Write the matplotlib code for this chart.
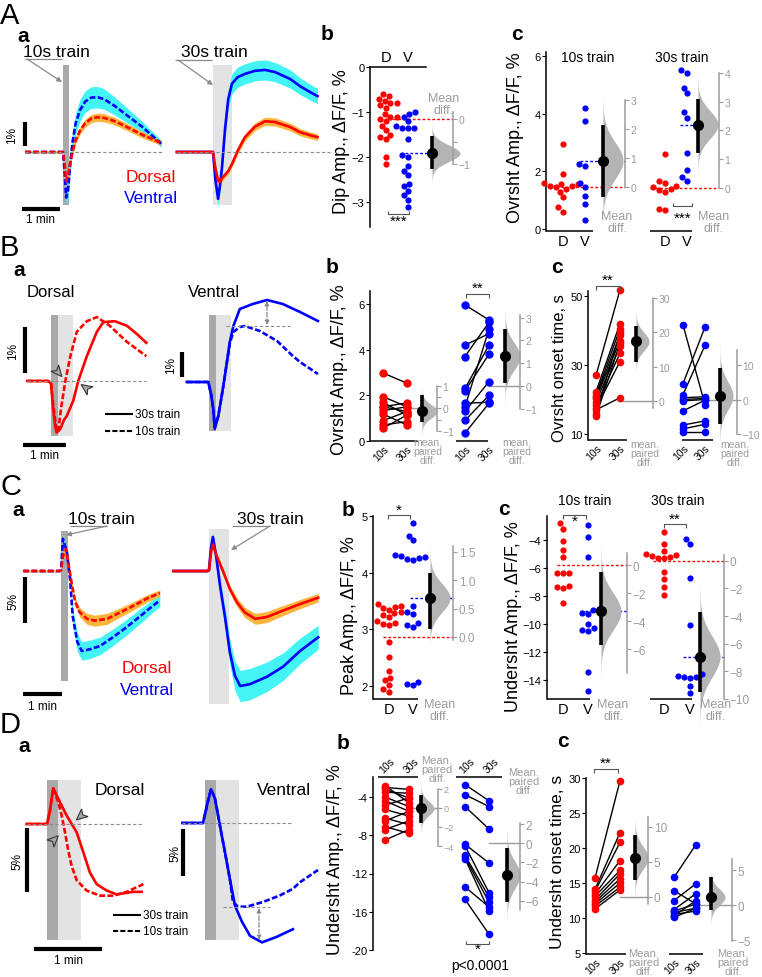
import numpy as np
import matplotlib
matplotlib.use('Agg')
import matplotlib.pyplot as plt

plt.rcParams['font.family'] = ['Liberation Sans', 'DejaVu Sans']

RED = '#ff0000'
BLUE = '#0000ff'
CYAN = '#44f4f4'
ORANGE = '#ffb43c'
DARKBAR = '#a9a9a9'
LIGHTBAR = '#e3e3e3'
GRAY = '#9c9c9c'
BASE = '#8c8c8c'

# ---------------- traces (time s, dF/F %) ----------------
# A: 10s and 30s train, mean +- sem
aa10_t = [-60, -30, -5, 0, 3, 5, 8, 11, 15, 20, 27, 35, 45, 55, 65, 80, 95, 110, 125, 140, 155]
aa10_dors = [0, 0, 0, 0, -0.6, -1.2, -1.0, -0.5, 0.0, 0.5, 0.9, 1.2, 1.4, 1.45, 1.42, 1.3, 1.12, 0.92, 0.72, 0.55, 0.38]
aa10_dors_sem = [0.04, 0.04, 0.04, 0.04, 0.1, 0.15, 0.15, 0.15, 0.15, 0.15, 0.15, 0.17, 0.17, 0.17, 0.17, 0.16, 0.15, 0.14, 0.13, 0.12, 0.1]
aa10_vent = [0, 0, 0, 0, -1.0, -1.9, -1.6, -0.6, 0.4, 1.2, 1.75, 2.1, 2.27, 2.28, 2.2, 1.95, 1.65, 1.35, 1.05, 0.7, 0.35]
aa10_vent_sem = [0.04, 0.04, 0.04, 0.04, 0.2, 0.3, 0.3, 0.35, 0.4, 0.45, 0.45, 0.45, 0.45, 0.45, 0.42, 0.38, 0.33, 0.28, 0.22, 0.18, 0.15]

aa30_t = [-57, -30, -5, 0, 4, 8, 11, 14, 19, 24, 30, 39, 50, 66, 82, 98, 122, 137, 153, 165]
aa30_dors = [0, 0, 0, 0, -0.7, -1.2, -1.25, -1.1, -0.95, -0.8, -0.5, 0.05, 0.6, 1.05, 1.28, 1.25, 1.04, 0.83, 0.7, 0.62]
aa30_dors_sem = [0.04, 0.04, 0.04, 0.04, 0.1, 0.12, 0.12, 0.12, 0.12, 0.12, 0.13, 0.14, 0.15, 0.16, 0.17, 0.17, 0.16, 0.15, 0.14, 0.14]
aa30_vent = [0, 0, 0, 0, -1.2, -1.95, -1.4, -0.7, 0.95, 2.2, 2.85, 3.12, 3.25, 3.38, 3.42, 3.33, 3.04, 2.75, 2.5, 2.33]
aa30_vent_sem = [0.04, 0.04, 0.04, 0.04, 0.2, 0.3, 0.3, 0.3, 0.35, 0.4, 0.42, 0.42, 0.42, 0.42, 0.42, 0.4, 0.38, 0.35, 0.33, 0.32]

# B: single examples
ba_d30_t = [-33, -4, 0, 3, 6, 8, 13, 18, 22, 31, 38, 50, 64, 73, 89, 106, 120, 133]
ba_d30 = [0, 0, -0.05, -0.6, -1.0, -1.12, -1.04, -0.85, -0.76, -0.43, 0.0, 0.54, 1.07, 1.28, 1.3, 1.2, 1.02, 0.83]
ba_d10_t = [-33, -4, 0, 3, 7, 10, 14, 20, 27, 36, 50, 64, 82, 106, 133]
ba_d10 = [0, 0, -0.05, -0.5, -1.0, -1.1, -0.6, 0.0, 0.54, 1.07, 1.3, 1.39, 1.2, 0.85, 0.54]
ba_v30_t = [-31, -1, 3, 6, 8, 13, 20, 25, 29, 34, 43, 61, 81, 103, 127, 152]
ba_v30 = [0, 0, -0.5, -1.08, -1.88, -1.36, -0.16, 0.8, 1.6, 2.24, 2.92, 3.12, 3.28, 3.12, 2.8, 2.44]
ba_v10_t = [-31, -1, 3, 6, 8, 13, 20, 25, 29, 34, 43, 50, 71, 95, 117, 127, 152]
ba_v10 = [0, 0, -0.5, -1.08, -1.8, -1.36, -0.16, 0.8, 1.55, 2.0, 2.2, 2.24, 2.04, 1.64, 1.04, 0.8, 0.32]

# C
ca10_dors_t = [-58, -2, 0, 3, 8, 11, 17, 22, 29, 40, 52, 71, 91, 111, 132, 152]
ca10_dors = [0, 0, 0.1, 1.6, 2.4, 1.0, -1.6, -3.4, -4.5, -5.2, -5.4, -5.2, -4.5, -3.8, -3.0, -2.4]
ca10_dors_sem = [0.1, 0.1, 0.1, 0.3, 0.3, 0.3, 0.35, 0.4, 0.5, 0.6, 0.6, 0.6, 0.5, 0.45, 0.4, 0.35]
ca10_vent_t = [-58, -2, 0, 3, 9, 14, 18, 25, 32, 45, 60, 80, 101, 122, 141, 152]
ca10_vent = [0, 0, 0.1, 3.5, 2.1, -0.9, -4.9, -7.7, -8.7, -8.5, -8.15, -7.2, -6.1, -4.9, -3.8, -3.2]
ca10_vent_sem = [0.1, 0.1, 0.1, 0.4, 0.5, 0.6, 0.8, 1.0, 1.0, 1.0, 0.95, 0.9, 0.85, 0.8, 0.7, 0.65]
ca30_dors_t = [-55, -2, 0, 3, 6, 12, 22, 32, 43, 55, 71, 89, 114, 140, 168]
ca30_dors = [0, 0, 0.1, 2.0, 2.9, 1.6, -0.1, -1.95, -3.4, -4.5, -5.2, -5.0, -4.3, -3.6, -2.9]
ca30_dors_sem = [0.1, 0.1, 0.1, 0.3, 0.3, 0.3, 0.35, 0.4, 0.5, 0.55, 0.6, 0.6, 0.55, 0.5, 0.45]
ca30_vent_t = [-55, -2, 0, 3, 6, 11, 17, 25, 32, 40, 48, 63, 89, 114, 140, 168]
ca30_vent = [0, 0, 0.1, 2.5, 3.7, 1.6, -1.6, -5.2, -8.8, -11.4, -12.5, -12.3, -11.5, -10.4, -8.7, -7.2]
ca30_vent_sem = [0.1, 0.1, 0.1, 0.4, 0.5, 0.6, 0.8, 1.1, 1.4, 1.6, 1.7, 1.7, 1.6, 1.5, 1.4, 1.3]

# D
da_d30_t = [-18, 0, 2.5, 5.5, 10, 17.4, 26.2, 32, 37.9, 43.8, 52.7, 61.5, 76.1, 83.5]
da_d30 = [0, 0, 1.0, 2.8, 1.95, 0.65, -0.65, -2.2, -3.8, -4.7, -5.2, -5.5, -5.3, -5.3]
da_d10_t = [-18, 0, 2.5, 5.5, 10, 13, 15.9, 18.8, 21.8, 26.2, 35, 46.7, 58.5, 70.3, 85]
da_d10 = [0, 0, 1.0, 2.8, 1.7, 0.65, -0.65, -2.1, -3.3, -4.4, -5.2, -5.6, -5.6, -5.3, -4.7]
da_v30_t = [-20, -1.8, 2.6, 5.3, 8.8, 13.2, 17.6, 22, 26.5, 32.6, 39.7, 50.3, 63.5, 77.6]
da_v30 = [0, 0, 2.3, 3.6, 2.6, -0.3, -3.1, -6.0, -8.8, -10.5, -12.0, -12.7, -12.1, -11.3]
da_v10_t = [-20, -1.8, 2.6, 5.3, 8.8, 13.2, 17.6, 22, 24.7, 29.1, 37, 51.2, 66.2, 77.6, 83.8, 99.7]
da_v10 = [0, 0, 2.3, 3.6, 2.6, -0.3, -3.1, -6.0, -8.4, -8.9, -8.9, -8.4, -7.7, -7.0, -6.3, -5.0]

# ---------------- group data ----------------
ab_dors = [-0.6, -0.65, -0.7, -0.75, -0.8, -0.8, -0.85, -0.9, -1.05, -1.1, -1.1, -1.15, -1.2, -1.3, -1.4, -1.5, -1.55, -1.6, -2.0, -2.15]
ab_vent = [-1.0, -1.05, -1.1, -1.2, -1.3, -1.35, -1.35, -1.35, -1.6, -1.95, -2.0, -2.2, -2.3, -2.4, -2.6, -2.65, -2.75, -2.85, -2.95, -3.1]
ab_eff, ab_ci = -0.76, [-1.1, -0.38]

ac10_dors = [2.95, 1.9, 1.6, 1.55, 1.55, 1.5, 1.5, 1.45, 1.4, 1.3, 1.1, 0.75, 0.6]
ac10_vent = [4.2, 3.75, 2.25, 2.2, 1.6, 1.45, 1.15, 0.85, 0.3]
ac10_eff, ac10_ci = 0.9, [-0.35, 2.15]
ac30_dors = [2.6, 1.65, 1.6, 1.5, 1.45, 1.4, 1.35, 1.3, 0.7, 0.65]
ac30_vent = [5.5, 5.4, 4.9, 4.7, 4.05, 3.85, 2.65, 2.05, 1.8, 1.65]
ac30_eff, ac30_ci = 2.2, [1.22, 3.1]

bb_d10 = [2.98, 1.94, 1.69, 1.5, 1.5, 1.33, 1.18, 0.89, 0.7, 0.56]
bb_d30 = [2.53, 1.5, 1.14, 1.67, 1.29, 1.5, 0.7, 1.29, 0.85, 1.14]
bb_d_eff, bb_d_ci = -0.13, [-0.61, 0.57]
bb_v10 = [5.96, 4.2, 3.7, 2.3, 2.2, 1.65, 1.5, 1.3, 0.9, 0.35]
bb_v30 = [5.3, 4.7, 5.2, 4.2, 3.8, 1.7, 4.9, 2.6, 2.0, 1.65]
bb_v_eff, bb_v_ci = 1.3, [0.13, 2.5]

bc_d10 = [27, 22.3, 21.3, 20.8, 20.3, 19.3, 18.3, 17.5, 17, 15.8, 15.2]
bc_d30 = [51.8, 42, 40.5, 38.6, 37, 35.5, 33.4, 31, 20.5, 39.5, 36.3]
bc_d_eff, bc_d_ci = 17.3, [11.4, 21.9]
bc_v10 = [41.6, 24.6, 21.4, 20.5, 19.6, 16.7, 12.6, 11.5, 10.6, 20]
bc_v30 = [18.5, 41, 35.7, 20.8, 20, 19.8, 13.8, 12.8, 10.6, 20.3]
bc_v_eff, bc_v_ci = 1.2, [-7.0, 9.1]

cb_dors = [3.45, 3.42, 3.4, 3.38, 3.35, 3.3, 3.28, 3.25, 3.22, 3.15, 3.12, 3.1, 3.08, 2.77, 2.52, 2.27, 2.15, 2.1, 2.02, 1.95, 1.9]
cb_vent = [4.87, 4.65, 4.57, 4.32, 4.3, 4.28, 4.26, 4.24, 4.22, 3.42, 3.3, 3.27, 3.12, 3.08, 3.05, 2.07, 2.03, 2.01]
cb_eff, cb_ci = 0.69, [0.14, 1.12]

cc10_dors = [-2.8, -3.2, -4.1, -4.7, -5.2, -6.35, -6.35, -6.35, -7.3, -7.35, -7.4, -8.5]
cc10_vent = [-2.9, -3.75, -5.2, -8.9, -9.0, -9.2, -9.3, -10.0, -10.3, -10.4, -10.5, -13.4, -14.8]
cc10_eff, cc10_ci = -3.3, [-5.7, -0.5]
cc30_dors = [-3.4, -4.3, -4.8, -5.0, -5.1, -5.15, -5.2, -5.25, -5.3, -6.3, -6.8, -7.35, -7.9]
cc30_vent = [-3.95, -4.3, -6.7, -10.1, -13.6, -13.7, -13.75, -13.8, -13.85, -14.4, -14.9]
cc30_eff, cc30_ci = -6.8, [-9.3, -3.6]

db_d10 = [-2.8, -3.0, -3.2, -3.5, -4.0, -4.4, -4.85, -5.3, -6.2, -6.5, -7.1, -7.4, -8.5]
db_d30 = [-4.6, -3.2, -4.1, -3.6, -5.0, -5.5, -4.1, -6.0, -6.9, -5.5, -7.8, -6.5, -7.4]
db_d_eff, db_d_ci = -0.05, [-1.58, 1.37]
db_v10 = [-2.7, -3.75, -5.0, -8.95, -9.1, -10.1, -10.3, -10.45, -13.4, -14.7]
db_v30 = [-4.4, -5.0, -7.35, -10.9, -14.0, -14.45, -15.0, -15.9, -15.5, -18.35]
db_v_eff, db_v_ci = -3.3, [-6.1, -0.53]

dc_d10 = [15.7, 14.1, 13.8, 13.4, 13.1, 12.6, 12.3, 12.0, 11.7, 11.3]
dc_d30 = [29.6, 22.2, 20.8, 18.2, 16.8, 16.3, 15.6, 15.0, 14.4, 14.0]
dc_d_eff, dc_d_ci = 5.6, [2.4, 8.9]
dc_v10 = [15.8, 13.9, 12.5, 11.2, 10.8, 10.5, 10.1, 10.3, 11.0]
dc_v30 = [20.5, 12.0, 14.9, 13.5, 11.4, 11.0, 11.4, 12.5, 12.0]
dc_v_eff, dc_v_ci = 1.2, [-0.6, 4.0]

# ---------------- figure ----------------
W, H = 762, 978
fig = plt.figure(figsize=(W / 100, H / 100), dpi=100)


def px_axes(x0, x1, y0, y1):
    ax = fig.add_axes([x0 / W, 1 - y1 / H, (x1 - x0) / W, (y1 - y0) / H])
    ax.patch.set_visible(False)
    for s in ax.spines.values():
        s.set_visible(False)
    ax.set_xticks([])
    ax.set_yticks([])
    return ax


def trace_axes(x0, x1, y0, y1, xz, spp, yz, ppu):
    ax = px_axes(x0, x1, y0, y1)
    ax.set_xlim((x0 - xz) * spp, (x1 - xz) * spp)
    ax.set_ylim((yz - y1) / ppu, (yz - y0) / ppu)
    ax.yz, ax.ppu = yz, ppu
    return ax


def stim(ax, t0, t1, ptop, pbot, color):
    ax.fill_between([t0, t1], (ax.yz - pbot) / ax.ppu, (ax.yz - ptop) / ax.ppu,
                    color=color, lw=0, zorder=0)


def trace(ax, t, v, color, dashed=False, sem=None, band=None, z=2):
    if sem is not None:
        v_ = np.array(v)
        s_ = np.array(sem)
        ax.fill_between(t, v_ - s_, v_ + s_, color=band, lw=0, zorder=1)
    ax.plot(t, v, color=color, lw=1.9, ls=(0, (2.2, 0.9)) if dashed else '-',
            zorder=z, clip_on=False)


def est_axes(x0, x1, y0, y1, cal):
    (va, pa), (vb, pb) = cal
    ppu = (pa - pb) / (vb - va)
    ax = px_axes(x0, x1, y0, y1)
    ax.set_xlim(x0, x1)
    ax.set_ylim(va - (y1 - pa) / ppu, va + (pa - y0) / ppu)
    ax.spines['left'].set_visible(True)
    ax.spines['left'].set_linewidth(1.1)
    ax.tick_params(axis='y', labelsize=8, length=3, width=0.8, pad=1)
    ax.ppu = ppu
    return ax


def segments(ax, segs, top=False):
    y = ax.get_ylim()[1] if top else ax.get_ylim()[0]
    for a, b in segs:
        ax.plot([a, b], [y, y], color='k', lw=1.1, clip_on=False, solid_capstyle='butt')


def cats(ax, xs, labels, rot=False, top=False, size=10.5):
    if top:
        ax.xaxis.tick_top()
    ax.set_xticks(xs)
    if rot:
        ax.set_xticklabels(labels, rotation=45, ha='left' if top else 'right',
                           rotation_mode='anchor', fontsize=7.5)
    else:
        ax.set_xticklabels(labels, fontsize=size)
    ax.tick_params(axis='x', length=0, pad=2)


def swarm(vals, xc, ppu, d=6.3):
    vals = np.asarray(vals, dtype=float)
    xs = np.zeros(len(vals))
    placed = []
    for i in np.argsort(vals):
        y = vals[i] * ppu
        cands = [0.0]
        near = []
        for px, py in placed:
            dy = abs(py - y)
            if dy < d:
                w = np.sqrt(d * d - dy * dy)
                near.append((px - w, px + w))
                cands += [px - w, px + w]
        cands.sort(key=abs)
        for c in cands:
            if all(not (lo + 1e-6 < c < hi - 1e-6) for lo, hi in near):
                xs[i] = c
                placed.append((c, y))
                break
    return xc + xs


def violin(ax, x, ref, eff, ci, width):
    sd = (ci[1] - ci[0]) / 3.92
    ys = np.linspace(eff - 4.5 * sd, eff + 4.5 * sd, 150)
    w = width * np.exp(-0.5 * ((ys - eff) / sd) ** 2)
    ax.fill_betweenx(ys + ref, x, x + w, color='#b4b4b4', lw=0, clip_on=False, zorder=2)
    ax.plot([x, x], [ci[0] + ref, ci[1] + ref], color='k', lw=2.6, clip_on=False,
            zorder=3, solid_capstyle='butt')
    ax.plot(x, eff + ref, 'o', color='k', ms=7, clip_on=False, zorder=4)


def diff_axis(ax, x, ref, lo, hi, ticks, labels=None, size=7.5):
    d = fig.add_axes(ax.get_position().bounds)
    d.patch.set_visible(False)
    d.set_xlim(ax.get_xlim())
    y0, y1 = ax.get_ylim()
    d.set_ylim(y0 - ref, y1 - ref)
    for s in ['left', 'top', 'bottom']:
        d.spines[s].set_visible(False)
    d.spines['right'].set_position(('data', x))
    d.spines['right'].set_bounds(lo, hi)
    d.spines['right'].set_color(GRAY)
    d.spines['right'].set_linewidth(1.1)
    d.yaxis.tick_right()
    d.set_yticks(ticks)
    if labels is not None:
        d.set_yticklabels(labels)
    d.set_xticks([])
    d.tick_params(axis='y', colors=GRAY, labelsize=size, length=3, width=0.8, pad=1)
    return d


def unpaired(ax, xd, xv, dors, vent, eff, ci, xe, xdiff, vw, sd, sv, ms=20):
    ref = np.mean(dors)
    ax.scatter(swarm(dors, xd, ax.ppu), dors, s=ms, color=RED, lw=0, zorder=3, clip_on=False)
    ax.scatter(swarm(vent, xv, ax.ppu), vent, s=ms, color=BLUE, lw=0, zorder=3, clip_on=False)
    ax.plot([sd, xdiff], [ref, ref], color=RED, lw=1, ls=(0, (2, 1.5)), zorder=2, clip_on=False)
    ax.plot([sv, xdiff], [ref + eff, ref + eff], color=BLUE, lw=1, ls=(0, (2, 1.5)),
            zorder=2, clip_on=False)
    violin(ax, xe, ref, eff, ci, vw)
    return ref


def paired(ax, x1, x2, a, b, color, eff, ci, xe, xdiff, vw, ms=6):
    for ya, yb in zip(a, b):
        ax.plot([x1, x2], [ya, yb], color='k', lw=1, zorder=2, clip_on=False)
    ax.plot(np.full(len(a), x1), a, 'o', color=color, ms=ms, mec='none', zorder=3, clip_on=False)
    ax.plot(np.full(len(b), x2), b, 'o', color=color, ms=ms, mec='none', zorder=3, clip_on=False)
    ref = np.mean(a)
    ax.plot([x2, xdiff], [ref, ref], color=GRAY, lw=1, zorder=1, clip_on=False)
    violin(ax, xe, ref, eff, ci, vw)
    return ref


# ---------- A a ----------
ax = trace_axes(20, 168, 55, 215, 63, 60 / 38, 153, 24)
stim(ax, 0, 10, 66, 206, DARKBAR)
trace(ax, aa10_t, aa10_vent, BLUE, True, aa10_vent_sem, CYAN, 2)
trace(ax, aa10_t, aa10_dors, RED, True, aa10_dors_sem, ORANGE, 3)
ax = trace_axes(172, 330, 55, 215, 213, 60 / 38, 153, 24)
stim(ax, 0, 30, 66, 206, LIGHTBAR)
trace(ax, aa30_t, aa30_vent, BLUE, False, aa30_vent_sem, CYAN, 2)
trace(ax, aa30_t, aa30_dors, RED, False, aa30_dors_sem, ORANGE, 3)

# ---------- A b ----------
ax = est_axes(370, 470, 68, 228, ((0, 68), (-3, 203)))
ax.set_yticks([0, -1, -2, -3])
ax.spines['top'].set_visible(True)
ax.spines['top'].set_bounds(370, 426)
ax.spines['top'].set_linewidth(1.1)
cats(ax, [386, 408], ['D', 'V'], top=True)
ref = unpaired(ax, 386, 408, ab_dors, ab_vent, ab_eff, ab_ci, 432, 453, 28, 388, 405)
diff_axis(ax, 453, ref, -1, 0.15, [0, -0.5, -1], ['0', '', '\u22121'])

# ---------- A c ----------
ax = est_axes(546, 745, 53, 232, ((0, 230), (6, 57)))
ax.set_yticks([0, 2, 4, 6])
segments(ax, [(546, 593), (650, 692)])
cats(ax, [563, 585, 665, 687], ['D', 'V', 'D', 'V'])
ref = unpaired(ax, 563, 585, ac10_dors, ac10_vent, ac10_eff, ac10_ci, 603, 625, 20, 556, 580)
diff_axis(ax, 625, ref, 0, 3, [0, 1, 2, 3])
ref = unpaired(ax, 665, 687, ac30_dors, ac30_vent, ac30_eff, ac30_ci, 698, 719, 20, 650, 680)
diff_axis(ax, 719, ref, 0, 4, [0, 1, 2, 3, 4])

# ---------- B a ----------
ax = trace_axes(20, 160, 300, 445, 51, 60 / 43, 382, 46)
stim(ax, 0, 10, 316, 437, DARKBAR)
stim(ax, 10, 30, 316, 437, LIGHTBAR)
trace(ax, ba_d10_t, ba_d10, RED, True)
trace(ax, ba_d30_t, ba_d30, RED, False)
ax = trace_axes(180, 330, 290, 445, 209, 60 / 43, 383, 25)
stim(ax, 0, 10, 316, 432, DARKBAR)
stim(ax, 10, 30, 316, 432, LIGHTBAR)
trace(ax, ba_v10_t, ba_v10, BLUE, True)
trace(ax, ba_v30_t, ba_v30, BLUE, False)

# ---------- B b ----------
ax = est_axes(370, 530, 292, 442, ((0, 442), (6, 305)))
ax.set_yticks([0, 2, 4, 6])
segments(ax, [(370, 418), (456, 488)])
cats(ax, [383, 407, 465, 489], ['10s', '30s', '10s', '30s'], rot=True)
ref = paired(ax, 383, 407, bb_d10, bb_d30, RED, bb_d_eff, bb_d_ci, 422, 437, 15)
diff_axis(ax, 437, ref, -1, 1, [-1, -0.5, 0, 0.5, 1], ['\u22121', '', '0', '', '1'])
ref = paired(ax, 465, 489, bb_v10, bb_v30, BLUE, bb_v_eff, bb_v_ci, 505, 520, 15)
diff_axis(ax, 520, ref, -1, 3.1, [-1, 0, 1, 2, 3])

# ---------- B c ----------
ax = est_axes(588, 755, 292, 441, ((10, 435), (50, 297)))
ax.set_yticks([10, 30, 50])
segments(ax, [(588, 627), (682, 713)])
cats(ax, [596, 620, 683, 705], ['10s', '30s', '10s', '30s'], rot=True)
ref = paired(ax, 596, 620, bc_d10, bc_d30, RED, bc_d_eff, bc_d_ci, 636, 653, 13, ms=5.5)
diff_axis(ax, 653, ref, -2, 30, [0, 10, 20, 30])
ref = paired(ax, 683, 705, bc_v10, bc_v30, BLUE, bc_v_eff, bc_v_ci, 720, 737, 13, ms=5.5)
diff_axis(ax, 737, ref, -10, 14.5, [-10, 0, 10])

# ---------- C a ----------
ax = trace_axes(18, 170, 520, 710, 61, 60 / 39, 572, 9.2)
stim(ax, 0, 10, 532, 682, DARKBAR)
trace(ax, ca10_vent_t, ca10_vent, BLUE, True, ca10_vent_sem, CYAN, 2)
trace(ax, ca10_dors_t, ca10_dors, RED, True, ca10_dors_sem, ORANGE, 3)
ax = trace_axes(170, 330, 520, 710, 209, 60 / 39, 572, 9.2)
stim(ax, 0, 30, 530, 705, LIGHTBAR)
trace(ax, ca30_vent_t, ca30_vent, BLUE, False, ca30_vent_sem, CYAN, 2)
trace(ax, ca30_dors_t, ca30_dors, RED, False, ca30_dors_sem, ORANGE, 3)

# ---------- C b ----------
ax = est_axes(373, 480, 517, 700, ((2, 687), (5, 517)))
ax.set_yticks([2, 3, 4, 5])
segments(ax, [(373, 418)])
cats(ax, [389, 413], ['D', 'V'])
ref = unpaired(ax, 389, 413, cb_dors, cb_vent, cb_eff, cb_ci, 430, 453, 20, 383, 410)
diff_axis(ax, 453, ref, -0.05, 1.6, [0, 0.5, 1.0, 1.5], ['0.0', '0.5', '1.0', '1.5'], size=8.5)

# ---------- C c ----------
ax = est_axes(547, 745, 517, 700, ((-4, 541), (-14, 681)))
ax.set_yticks([-4, -6, -8, -10, -12, -14])
segments(ax, [(547, 590), (650, 692)])
cats(ax, [563, 588, 664, 690], ['D', 'V', 'D', 'V'])
ref = unpaired(ax, 563, 588, cc10_dors, cc10_vent, cc10_eff, cc10_ci, 601, 627, 20, 557, 580)
diff_axis(ax, 627, ref, -7.7, 0.9, [0, -2, -4, -6], size=8.5)
ref = unpaired(ax, 664, 690, cc30_dors, cc30_vent, cc30_eff, cc30_ci, 700, 724, 20, 653, 683)
diff_axis(ax, 724, ref, -10, 0.4, [0, -2, -4, -6, -8, -10], size=8.5)

# ---------- D a ----------
ax = trace_axes(20, 160, 775, 945, 47, 60 / 68, 825, 12.8)
stim(ax, 0, 10, 781, 941, DARKBAR)
stim(ax, 10, 30, 781, 941, LIGHTBAR)
trace(ax, da_d10_t, da_d10, RED, True)
trace(ax, da_d30_t, da_d30, RED, False)
ax = trace_axes(178, 330, 775, 945, 205, 60 / 68, 824, 9.4)
stim(ax, 0, 10, 781, 941, DARKBAR)
stim(ax, 10, 30, 781, 941, LIGHTBAR)
trace(ax, da_v10_t, da_v10, BLUE, True)
trace(ax, da_v30_t, da_v30, BLUE, False)

# ---------- D b ----------
ax = est_axes(373, 540, 778, 951, ((-4, 798), (-20, 951)))
ax.set_yticks([-4, -8, -12, -16, -20])
ax.set_yticklabels(['-4', '-8', '-12', '-16', '-20'])
segments(ax, [(378, 418), (456, 502)], top=True)
cats(ax, [385, 409, 465, 489], ['10s', '30s', '10s', '30s'], rot=True, top=True)
ref = paired(ax, 385, 409, db_d10, db_d30, RED, db_d_eff, db_d_ci, 421, 438, 13, ms=5.5)
diff_axis(ax, 438, ref, -4, 2, [2, 0, -2, -4], size=6.5)
ref = paired(ax, 465, 489, db_v10, db_v30, BLUE, db_v_eff, db_v_ci, 507, 520, 13, ms=5.5)
diff_axis(ax, 520, ref, -7, 2.1, [2, 0, -2, -4, -6], size=8.5)

# ---------- D c ----------
ax = est_axes(586, 755, 779, 955, ((30, 779), (5, 954)))
ax.set_yticks([5, 10, 15, 20, 25, 30])
segments(ax, [(586, 626), (669, 703)])
cats(ax, [595, 620, 674, 696], ['10s', '30s', '10s', '30s'], rot=True)
ref = paired(ax, 595, 620, dc_d10, dc_d30, RED, dc_d_eff, dc_d_ci, 635, 648, 13, ms=5.5)
diff_axis(ax, 648, ref, -1, 11.4, [0, 5, 10], size=8.5)
ref = paired(ax, 674, 696, dc_v10, dc_v30, BLUE, dc_v_eff, dc_v_ci, 711, 732, 14, ms=5.5)
diff_axis(ax, 732, ref, -5.1, 6.6, [-5, 0, 5], size=8.5)

# ---------------- overlay: labels, scale bars, annotations ----------------
ov = fig.add_axes([0, 0, 1, 1])
ov.set_xlim(0, W)
ov.set_ylim(H, 0)
ov.axis('off')


def T(x, y, s, size=10, **kw):
    kw.setdefault('ha', 'left')
    kw.setdefault('va', 'baseline')
    ov.text(x, y, s, fontsize=size, **kw)


def L(xs, ys, **kw):
    kw.setdefault('color', 'k')
    kw.setdefault('solid_capstyle', 'butt')
    ov.plot(xs, ys, **kw)


def arrow(x0, y0, x1, y1):
    ov.annotate('', xy=(x1, y1), xytext=(x0, y0),
                arrowprops=dict(arrowstyle='-|>', color='#8a8a8a', lw=0.9,
                                mutation_scale=7, shrinkA=0, shrinkB=0))


def bracket(x0, x1, y, up, stars, sy):
    e = -3.5 if up else 3.5
    L([x0, x0, x1, x1], [y + e, y, y, y + e], color='#555555', lw=0.8)
    T((x0 + x1) / 2, sy, stars, 11, ha='center', va='center')


def ylab(x, y, s, size=13):
    T(x, y, s, size, rotation=90, ha='center', va='center')


def note(x, y, s, size=9, ls=0.95):
    T(x, y, s, size, ha='center', va='center', color=GRAY, linespacing=ls, multialignment='center')


def chevron(x, y, ang):
    # notched arrowhead centred at (x, y) pointing along screen angle ang (deg, y down)
    a = np.radians(ang)
    d = np.array([np.cos(a), np.sin(a)])
    n = np.array([-d[1], d[0]])
    c = np.array([x, y])
    pts = [c + 6 * d, c - 5 * d + 5 * n, c - 2 * d, c - 5 * d - 5 * n]
    ov.add_patch(plt.Polygon(pts, closed=True, facecolor='#a8a8a8', edgecolor='#333333', lw=0.8))


# panel letters
for (x, y, s) in [(0, 24, 'A'), (0, 256, 'B'), (0, 495, 'C'), (0, 733, 'D')]:
    T(x, y, s, 21)
for (x, y) in [(17, 42), (13, 276), (12, 516), (18, 752)]:
    T(x, y, 'a', 15, fontweight='bold')
for (x, y, s) in [(321, 40, 'b'), (511, 40, 'c'), (326, 273, 'b'), (551, 273, 'c'),
                  (342, 516, 'b'), (498, 515, 'c'), (337, 749, 'b'), (557, 747, 'c')]:
    T(x, y, s, 15, fontweight='bold')

# A a
T(23, 57, '10s train', 12.5)
L([25, 62], [60, 60], color='#8a8a8a', lw=0.9)
arrow(27, 60, 62, 83)
T(181, 57, '30s train', 12.5)
L([175, 212], [61, 61], color='#8a8a8a', lw=0.9)
arrow(178, 61, 213, 86)
L([25, 162], [153, 153], color=BASE, lw=0.8, ls=(0, (3, 2)))
L([177, 330], [153, 153], color=BASE, lw=0.8, ls=(0, (3, 2)))
L([25, 25], [123, 147], lw=3)
T(12, 135, '1%', 8.5, rotation=90, ha='center', va='center')
L([22, 60], [210, 210], lw=3)
T(41, 223, '1 min', 8.5, ha='center')
T(126, 182, 'Dorsal', 12.5, color=RED)
T(124, 203, 'Ventral', 12.5, color=BLUE)

# A b
ylab(341, 142, 'Dip Amp., \u0394F/F, %')
note(444, 105, 'Mean\ndiff.')
bracket(388, 409, 215, True, '***', 222)

# A c
ylab(515, 138, 'Ovrsht Amp., \u0394F/F, %')
T(588, 62, '10s train', 10, ha='center')
T(682, 62, '30s train', 10, ha='center')
note(617, 223, 'Mean\ndiff.')
note(714, 223, 'Mean\ndiff.')
bracket(673, 692, 207, True, '***', 219)

# B a
T(27, 297, 'Dorsal', 12)
T(188, 297, 'Ventral', 12)
L([27, 146], [382, 382], color=BASE, lw=0.8, ls=(0, (3, 2)))
L([226, 290], [327, 327], color=BASE, lw=0.8, ls=(0, (3, 2)))
ov.annotate('', xy=(267, 302), xytext=(267, 326),
            arrowprops=dict(arrowstyle='<|-|>', color='#8a8a8a', lw=0.9, ls='--',
                            mutation_scale=6, shrinkA=0, shrinkB=0))
chevron(58, 373, 50)
chevron(86, 389, 215)
L([25, 25], [328, 374], lw=3)
T(13, 351, '1%', 8.5, rotation=90, ha='center', va='center')
L([182, 182], [353, 378], lw=3)
T(171, 365, '1%', 8.5, rotation=90, ha='center', va='center')
L([23, 66], [446, 446], lw=3)
T(44, 459, '1 min', 8.5, ha='center')
L([105, 133], [415, 415], lw=1.5)
T(135, 415, '30s train', 8.5, va='center')
L([105, 133], [432, 432], lw=1.5, ls=(0, (2.5, 1)))
T(135, 432, '10s train', 8.5, va='center')

# B b / c
ylab(340, 370, 'Ovrsht Amp., \u0394F/F, %')
bracket(466, 489, 295, False, '**', 289)
note(428, 452, 'mean.\npaired\ndiff.', 7.5, 0.9)
note(517, 452, 'mean.\npaired\ndiff.', 7.5, 0.9)
ylab(559, 368, 'Ovrsht onset time, s', 12)
bracket(596, 620, 287, False, '**', 281)
note(645, 454, 'mean.\npaired\ndiff.', 7.5, 0.9)
note(735, 454, 'mean.\npaired\ndiff.', 7.5, 0.9)

# C a
T(68, 524, '10s train', 12.5)
L([70, 107], [527, 527], color='#8a8a8a', lw=0.9)
arrow(107, 527, 66, 536)
T(237, 524, '30s train', 12.5)
L([232, 270], [527, 527], color='#8a8a8a', lw=0.9)
arrow(270, 527, 231, 551)
L([25, 25], [578, 624], lw=3)
T(13, 601, '5%', 8.5, rotation=90, ha='center', va='center')
L([23, 62], [695, 695], lw=3)
T(42, 710, '1 min', 8.5, ha='center')
T(122, 673, 'Dorsal', 12.5, color=RED)
T(120, 695, 'Ventral', 12.5, color=BLUE)

# C b / c
ylab(350, 616, 'Peak Amp., \u0394F/F, %')
bracket(388, 410, 516, False, '*', 511)
note(440, 711, 'Mean\ndiff.')
ylab(513, 617, 'Undersht Amp., \u0394F/F, %')
T(585, 505, '10s train', 10, ha='center')
T(678, 505, '30s train', 10, ha='center')
bracket(563, 586, 516, False, '*', 522)
bracket(664, 686, 525, False, '**', 520)
note(613, 711, 'Mean\ndiff.')
note(716, 711, 'Mean\ndiff.')

# D a
T(95, 795, 'Dorsal', 12.5)
T(257, 795, 'Ventral', 12.5)
L([27, 143], [825, 825], color=BASE, lw=0.8, ls=(0, (3, 2)))
L([182, 293], [824, 824], color=BASE, lw=0.8, ls=(0, (3, 2)))
L([223, 270], [908, 908], color=BASE, lw=0.8, ls=(0, (3, 2)))
ov.annotate('', xy=(259, 941), xytext=(259, 909),
            arrowprops=dict(arrowstyle='<|-|>', color='#8a8a8a', lw=0.9, ls='--',
                            mutation_scale=6, shrinkA=0, shrinkB=0))
chevron(81, 817, 140)
chevron(54, 841, -45)
L([27, 27], [829, 893], lw=3)
T(17, 861, '5%', 8.5, rotation=90, ha='center', va='center')
L([183, 183], [830, 877], lw=3)
T(175, 853, '5%', 8.5, rotation=90, ha='center', va='center')
L([34, 102], [950, 950], lw=3)
T(68, 964, '1 min', 8.5, ha='center')
L([113, 141], [916, 916], lw=1.5)
T(143, 916, '30s train', 8.5, va='center')
L([113, 141], [932, 932], lw=1.5, ls=(0, (2.5, 1)))
T(143, 932, '10s train', 8.5, va='center')

# D b / c
ylab(336, 860, 'Undersht Amp., \u0394F/F, %')
note(437, 770, 'Mean.\npaired\ndiff.', 8, 0.9)
note(524, 782, 'Mean.\npaired\ndiff.', 8, 0.9)
bracket(466, 489, 945, True, '*', 950)
T(480, 970, 'p<0.0001', 10, ha='center')
ylab(558, 862, 'Undersht onset time, s', 12.5)
bracket(594, 618, 770, False, '**', 764)
note(644, 963, 'Mean.\npaired\ndiff.', 8, 0.9)
note(733, 963, 'Mean.\npaired\ndiff.', 8, 0.9)

fig.savefig('out.png', dpi=100)
